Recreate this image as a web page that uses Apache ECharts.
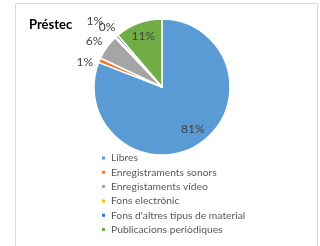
<!DOCTYPE html>
<html>
<head>
<meta charset="utf-8">
<script src="https://cdn.jsdelivr.net/npm/echarts@6/dist/echarts.min.js"></script>
<style>
html, body { margin: 0; padding: 0; background: #fff; }
#chart { width: 320px; height: 246px; }
</style>
</head>
<body>
<div id="chart"></div>
<script>
var categories = ["Libres", "Enregistraments sonors", "Enregistaments vídeo", "Fons electrònic", "Fons d'altres tipus de material", "Publicacions periòdiques"];
var values = [80.9, 1.1, 5.9, 0.3, 0.6, 11.2];
var COLORS = ["#5B9BD5", "#ED7D31", "#A5A5A5", "#FFC000", "#4472C4", "#70AD47"];
// small nudges so the outside labels don't sit on top of each other (like Excel)
var labelNudge = [[0, -3], [1, 9], [1, 4], [3, 2], [-11, -2], [0, 0]];

var myChart = echarts.init(document.getElementById("chart"));

function pct(p) { return Math.round(p.value) + '%'; }

var labelStyle = { fontSize: 12, color: '#404040', fontFamily: 'Lato', formatter: pct };

// inner labels for the big slices, outer labels for the small ones
var innerData = categories.map(function (name, i) {
    return { name: name, value: values[i], label: { show: values[i] >= 10, offset: labelNudge[i] } };
});
var outerData = categories.map(function (name, i) {
    return { name: name, value: values[i], label: { show: values[i] < 10, offset: labelNudge[i] } };
});

var labelSeries = {
    type: 'pie',
    center: [162, 87],
    startAngle: 90,
    silent: true,
    legendHoverLink: false,
    avoidLabelOverlap: false,
    minShowLabelAngle: 0,
    labelLayout: { hideOverlap: false },
    itemStyle: { color: 'rgba(0,0,0,0)', borderWidth: 0 },
    emphasis: { disabled: true },
    labelLine: { show: false }
};

var option = {
    color: COLORS,
    animation: false,
    title: {
        text: 'Préstec',
        left: 24,
        top: 13,
        textStyle: { fontSize: 13, fontWeight: 'bold', color: '#000', fontFamily: 'Lato' }
    },
    legend: {
        orient: 'vertical',
        left: 95,
        top: 147,
        itemWidth: 5,
        itemHeight: 5,
        itemGap: 2.3,
        icon: 'rect',
        textStyle: { fontSize: 10.3, color: '#595959', lineHeight: 12, fontFamily: 'Lato' },
        data: categories
    },
    graphic: [{
        type: 'rect',
        shape: { x: 15.5, y: 3.5, width: 302, height: 250 },
        style: { fill: 'none', stroke: '#d9d9d9', lineWidth: 1 },
        silent: true
    }],
    series: [{
        type: 'pie',
        center: [162, 87],
        radius: 68,
        startAngle: 90,
        clockwise: true,
        itemStyle: { borderColor: '#fff', borderWidth: 1.5 },
        label: { show: false },
        labelLine: { show: false },
        data: categories.map(function (name, i) { return { name: name, value: values[i] }; })
    },
    Object.assign({}, labelSeries, {
        radius: [35, 68],
        label: Object.assign({ position: 'inside', overflow: 'none' }, labelStyle),
        data: innerData
    }),
    Object.assign({}, labelSeries, {
        radius: [68, 96],
        label: Object.assign({ position: 'inside', overflow: 'none' }, labelStyle),
        data: outerData
    })]
};
myChart.setOption(option);
</script>
</body>
</html>
